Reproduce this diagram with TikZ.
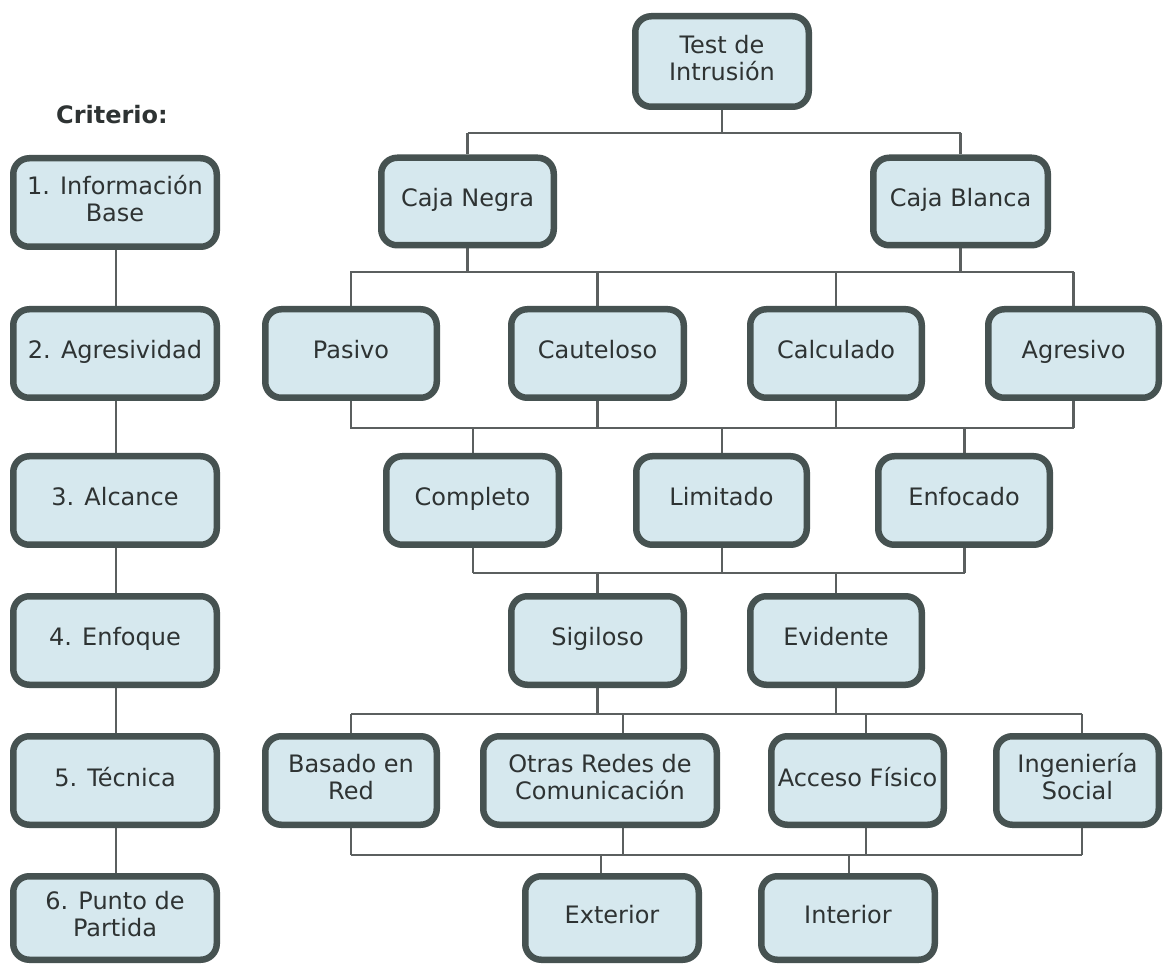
\documentclass[tikz,border=0pt]{standalone}
\usepackage{fontspec}
\setmainfont{DejaVu Sans}
\usetikzlibrary{backgrounds}
\definecolor{boxfill}{HTML}{D6E8EE}
\definecolor{boxline}{HTML}{465251}
\definecolor{wirecol}{HTML}{5B5F5F}
\definecolor{ink}{HTML}{2E3333}
\tikzset{
  box/.style={draw=boxline, fill=boxfill, line width=6.5pt, rounded corners=16pt,
    inner sep=0pt, align=center, text=ink, font=\fontsize{24}{27}\selectfont,
    execute at begin node=\strut, execute at end node=\strut},
  dims/.style 2 args={minimum width=#1pt-6.5pt, minimum height=#2pt-6.5pt},
  wire/.style={draw=wirecol, line width=2.4pt},
}
\begin{document}
\begin{tikzpicture}[x=1pt, y=-1pt]
\useasboundingbox (0,0) rectangle (1163,965);

% criteria column
\node[text=ink, font=\fontsize{24}{26}\selectfont\bfseries] (crit) at (112,115) {Criterio:};
\node[box, dims={210}{95}] (c1) at (115,202.5) {1. Información\\Base};
\node[box, dims={210}{95}] (c2) at (115,353.5) {2. Agresividad};
\node[box, dims={210}{95}] (c3) at (115,500.5) {3. Alcance};
\node[box, dims={210}{95}] (c4) at (115,640.5) {4. Enfoque};
\node[box, dims={210}{95}] (c5) at (115,780.5) {5. Técnica};
\node[box, dims={210}{90}] (c6) at (115,918) {6. Punto de\\Partida};

% tree
\node[box, dims={180}{97}] (test) at (722,61.5) {Test de\\Intrusión};
\node[box, dims={179}{94}] (cneg) at (467.5,201.5) {Caja Negra};
\node[box, dims={181}{94}] (cbla) at (960.5,201.5) {Caja Blanca};

\node[box, dims={178}{95}] (pas) at (351,353.5) {Pasivo};
\node[box, dims={179}{95}] (cau) at (597.5,353.5) {Cauteloso};
\node[box, dims={178}{95}] (cal) at (836,353.5) {Calculado};
\node[box, dims={177}{95}] (agr) at (1073.5,353.5) {Agresivo};

\node[box, dims={179}{95}] (com) at (472.5,500.5) {Completo};
\node[box, dims={177}{95}] (lim) at (721.5,500.5) {Limitado};
\node[box, dims={178}{95}] (enf) at (964,500.5) {Enfocado};

\node[box, dims={179}{95}] (sig) at (597.5,640.5) {Sigiloso};
\node[box, dims={178}{95}] (evi) at (836,640.5) {Evidente};

\node[box, dims={178}{95}] (bas) at (351,780.5) {Basado en\\Red};
\node[box, dims={240}{95}] (otr) at (600,780.5) {Otras Redes de\\Comunicación};
\node[box, dims={179}{95}] (acc) at (857.5,780.5) {Acceso Físico};
\node[box, dims={169}{95}] (ing) at (1077.5,780.5) {Ingeniería\\Social};

\node[box, dims={180}{90}] (ext) at (612,918) {Exterior};
\node[box, dims={180}{90}] (int) at (848,918) {Interior};

% bus levels
\coordinate (b1) at (0,133);
\coordinate (b2) at (0,272);
\coordinate (b3) at (0,428);
\coordinate (b4) at (0,573);
\coordinate (b5) at (0,714);
\coordinate (b6) at (0,855);

\begin{scope}[on background layer]
\fill[white] (0,0) rectangle (1163,965);
% criteria chain
\draw[wire] ([xshift=1pt]c1.south) -- ([xshift=1pt]c6.north);
% level 1
\draw[wire] (test.south) -- (test.south |- b1);
\draw[wire] (cneg.north |- b1) -- (cbla.north |- b1);
\draw[wire] (cneg.north |- b1) -- (cneg.north);
\draw[wire] (cbla.north |- b1) -- (cbla.north);
% level 2
\draw[wire] (cneg.south) -- (cneg.south |- b2);
\draw[wire] (cbla.south) -- (cbla.south |- b2);
\draw[wire] ([xshift=-1pt]pas.north |- b2) -- (agr.north |- b2);
\foreach \n in {pas,cau,cal,agr}
  \draw[wire] (\n.north |- b2) -- (\n.north);
% level 3
\draw[wire] ([xshift=-1pt]pas.south |- b3) -- (agr.south |- b3);
\foreach \n in {pas,cau,cal,agr}
  \draw[wire] (\n.south) -- (\n.south |- b3);
\foreach \n in {com,lim,enf}
  \draw[wire] ([xshift=0.5pt]\n.north |- b3) -- ([xshift=0.5pt]\n.north);
% level 4
\draw[wire] ([xshift=0.5pt]com.south |- b4) -- ([xshift=0.5pt]enf.south |- b4);
\foreach \n in {com,lim,enf}
  \draw[wire] ([xshift=0.5pt]\n.south) -- ([xshift=0.5pt]\n.south |- b4);
\draw[wire] (sig.north |- b4) -- (sig.north);
\draw[wire] (evi.north |- b4) -- (evi.north);
% level 5
\draw[wire] (sig.south) -- (sig.south |- b5);
\draw[wire] (evi.south) -- (evi.south |- b5);
\draw[wire] (bas.north |- b5) -- ([xshift=4.5pt]ing.north |- b5);
\draw[wire] (bas.north |- b5) -- (bas.north);
\draw[wire] ([xshift=23pt]otr.north |- b5) -- ([xshift=23pt]otr.north);
\draw[wire] ([xshift=8.5pt]acc.north |- b5) -- ([xshift=8.5pt]acc.north);
\draw[wire] ([xshift=4.5pt]ing.north |- b5) -- ([xshift=4.5pt]ing.north);
% level 6
\draw[wire] (bas.south |- b6) -- ([xshift=4.5pt]ing.south |- b6);
\draw[wire] (bas.south) -- (bas.south |- b6);
\draw[wire] ([xshift=23pt]otr.south) -- ([xshift=23pt]otr.south |- b6);
\draw[wire] ([xshift=8.5pt]acc.south) -- ([xshift=8.5pt]acc.south |- b6);
\draw[wire] ([xshift=4.5pt]ing.south) -- ([xshift=4.5pt]ing.south |- b6);
\draw[wire] ([xshift=-11pt]ext.north |- b6) -- ([xshift=-11pt]ext.north);
\draw[wire] ([xshift=1pt]int.north |- b6) -- ([xshift=1pt]int.north);
\end{scope}
\end{tikzpicture}
\end{document}
